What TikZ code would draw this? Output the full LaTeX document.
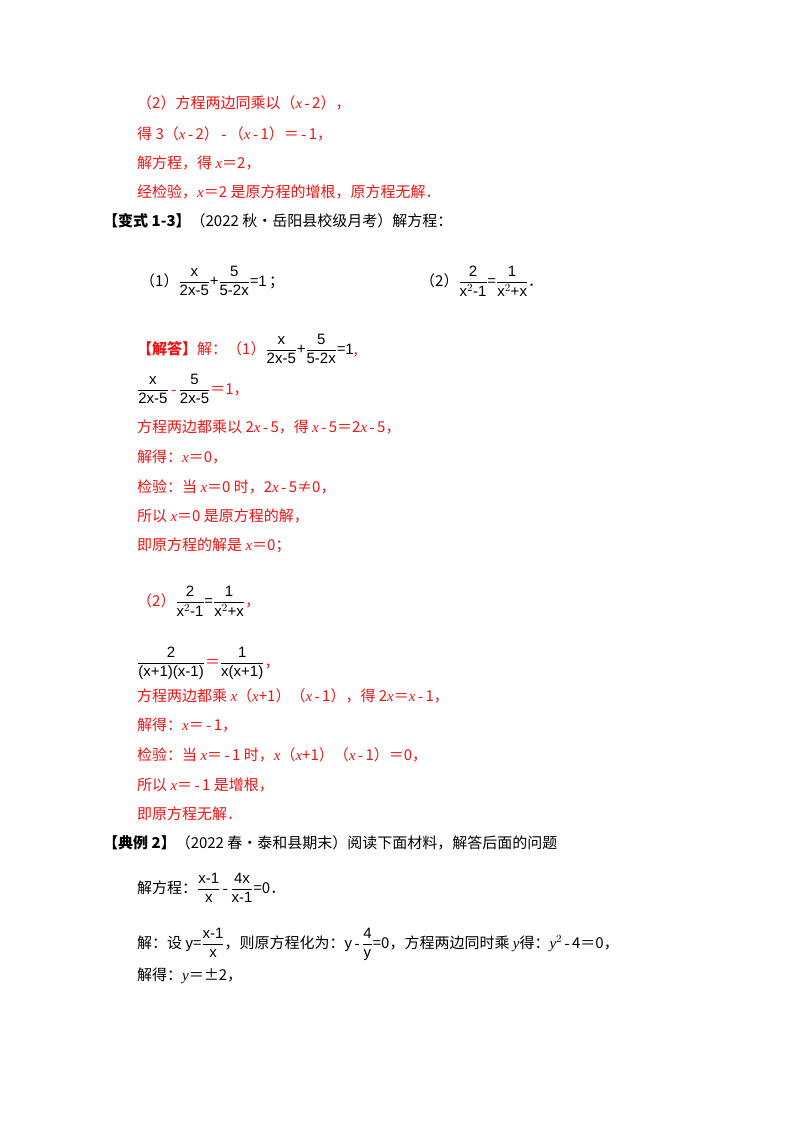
\documentclass[tikz,border=0pt]{standalone}
\usepackage{fontspec}
\usepackage{amsmath}
\setmainfont{Noto Sans CJK SC}
\newfontfamily\lat{Liberation Serif}
\newfontfamily\lsans{Liberation Sans}
\definecolor{ansred}{RGB}{240,20,20}
\newcommand{\fr}[2]{$\dfrac{\text{\lsans\fontsize{15}{17}\selectfont #1}}{\text{\lsans\fontsize{15}{17}\selectfont #2}}$}
\newcommand{\vx}{{\lat\itshape x}}
\newcommand{\vy}{{\lat\itshape y}}
\newcommand{\mn}{\,{\lat -}\,}
\begin{document}
\begin{tikzpicture}[x=1pt,y=-1pt,
  ln/.style={anchor=base west,inner sep=0pt,font=\fontsize{15}{18}\selectfont},
  rd/.style={ln,text=ansred},
  bk/.style={ln,text=black}]
\useasboundingbox (0,0) rectangle (800,1132);
\fill[white] (0,0) rectangle (800,1132);
\node[rd] (l1) at (137,108) {（2）方程两边同乘以（\vx\mn 2），};
\node[rd] (l2) at (137,139) {得 3（\vx\mn 2）\mn（\vx\mn 1）＝\mn 1，};
\node[rd] (l3) at (137,168) {解方程，得 \vx＝2，};
\node[rd] (l4) at (137,197) {经检验，\vx＝2 是原方程的增根，原方程无解．};
\node[bk] (h1) at (103,226) {\textbf{【变式 1-3】}（2022 秋•岳阳县校级月考）解方程：};
\node[bk] (q1) at (140,286) {（1）\fr{x}{2x-5}+\fr{5}{5-2x}={\lsans\fontsize{15}{17}\selectfont 1}\,；};
\node[bk] (q2) at (420,286) {（2）\fr{2}{x$^2$-1}=\fr{1}{x$^2$+x}．};
\node[rd] (a1) at (137,354) {\textbf{【解答】}解：（1）\textcolor{black}{\fr{x}{2x-5}+\fr{5}{5-2x}={\lsans\fontsize{15}{17}\selectfont 1}},};
\node[rd] (a2) at (137,394) {\textcolor{black}{\fr{x}{2x-5}}\mn\textcolor{black}{\fr{5}{2x-5}}＝1，};
\node[rd] (a3) at (137,432) {方程两边都乘以 2\vx\mn 5，得 \vx\mn 5＝2\vx\mn 5，};
\node[rd] (a4) at (137,462) {解得：\vx＝0，};
\node[rd] (a5) at (137,492) {检验：当 \vx＝0 时，2\vx\mn 5≠0，};
\node[rd] (a6) at (137,521) {所以 \vx＝0 是原方程的解，};
\node[rd] (a7) at (137,550) {即原方程的解是 \vx＝0；};
\node[rd] (b1) at (137,606) {（2）\textcolor{black}{\fr{2}{x$^2$-1}=\fr{1}{x$^2$+x}}，};
\node[rd] (b2) at (137,667) {\textcolor{black}{\fr{2}{(x+1)(x-1)}}＝\textcolor{black}{\fr{1}{x(x+1)}}，};
\node[rd] (b3) at (137,701) {方程两边都乘 \vx（\vx+1）（\vx\mn 1），得 2\vx＝\vx\mn 1，};
\node[rd] (b4) at (137,730) {解得：\vx＝\mn 1，};
\node[rd] (b5) at (137,760) {检验：当 \vx＝\mn 1 时，\vx（\vx+1）（\vx\mn 1）＝0，};
\node[rd] (b6) at (137,790) {所以 \vx＝\mn 1 是增根，};
\node[rd] (b7) at (137,819) {即原方程无解．};
\node[bk] (h2) at (103,848) {\textbf{【典例 2】}（2022 春•泰和县期末）阅读下面材料，解答后面的问题};
\node[bk] (c1) at (137,893) {解方程：\fr{x-1}{x}\mn\fr{4x}{x-1}=0．};
\node[bk] (c2) at (137,948) {解：设 {\lsans y}=\fr{x-1}{x}，则原方程化为：{\lsans y}\mn\fr{4}{y}=0，方程两边同时乘 \vy 得：\vy$^2$\mn 4＝0，};
\node[bk] (c3) at (137,980) {解得：\vy＝±2，};
\end{tikzpicture}
\end{document}
